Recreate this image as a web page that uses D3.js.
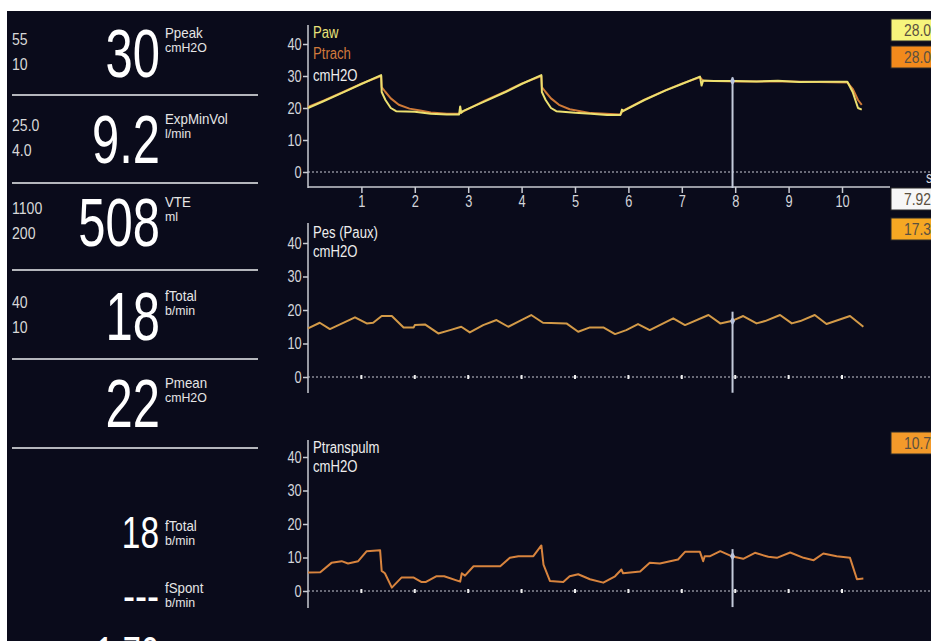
<!DOCTYPE html>
<html>
<head>
<meta charset="utf-8">
<script src="https://cdn.jsdelivr.net/npm/d3@7"></script>
<style>
  html, body { margin: 0; padding: 0; background: #fff; }
  svg { display: block; }
  text { font-family: "Liberation Sans", Arial, sans-serif; }
</style>
</head>
<body>
<div id="monitor"></div>
<script>
// Ventilator screen: numeric panel + three pressure waveforms

// numeric parameter panel (value, name, unit, upper/lower alarm limits)
const paramValues = ["30", "9.2", "508", "18", "22"];
const paramNames = ["Ppeak", "ExpMinVol", "VTE", "fTotal", "Pmean"];
const paramUnits = ["cmH2O", "l/min", "ml", "b/min", "cmH2O"];
const paramHigh = ["55", "25.0", "1100", "40", ""];
const paramLow = ["10", "4.0", "200", "10", ""];

const smallValues = ["18", "---"];
const smallNames = ["fTotal", "fSpont"];
const smallUnits = ["b/min", "b/min"];

// time axis
const timeTicks = [1, 2, 3, 4, 5, 6, 7, 8, 9, 10];
const pressureTicks = [0, 10, 20, 30, 40];
const cursorTime = 7.95;

// waveforms, [seconds, cmH2O]
const paw = [
  [0, 20], [0.3, 22.2], [0.7, 25.2], [1.0, 27.5], [1.37, 30.3], [1.38, 25], [1.45, 22.5],
  [1.55, 20], [1.65, 19], [2.0, 18.8], [2.3, 18.2], [2.6, 18], [2.83, 18], [2.85, 20.5],
  [2.87, 18.5], [2.9, 19], [3.3, 22], [3.7, 25], [4.0, 27.5], [4.37, 30.3], [4.38, 25],
  [4.45, 22.5], [4.55, 20], [4.65, 19], [5.0, 18.5], [5.3, 18.2], [5.6, 17.8], [5.85, 17.8],
  [5.88, 19.5], [5.9, 19], [6.3, 22.5], [6.7, 25.5], [7.0, 27.5], [7.34, 29.8], [7.37, 27],
  [7.4, 28.6], [7.6, 28.4], [8.0, 28.4], [8.4, 28.3], [8.8, 28.5], [9.2, 28.1], [9.6, 28.2],
  [10.1, 28.2], [10.2, 25], [10.3, 20], [10.37, 19.5]
];
const ptrach = [
  [0, 20.3], [0.3, 22.4], [0.7, 25.3], [1.0, 27.6], [1.37, 30], [1.38, 26.5], [1.45, 25],
  [1.55, 23], [1.7, 21], [1.9, 19.8], [2.1, 19.2], [2.3, 18.6], [2.6, 18.2], [2.83, 18.2],
  [2.88, 18.7], [3.3, 22.2], [3.7, 25.2], [4.0, 27.6], [4.37, 30], [4.38, 26.5], [4.45, 25],
  [4.55, 23], [4.7, 21], [4.9, 19.6], [5.1, 19], [5.3, 18.4], [5.85, 18], [5.9, 19.2],
  [6.3, 22.6], [6.7, 25.6], [7.0, 27.6], [7.34, 29.6], [7.4, 28.5], [8.0, 28.3], [9.0, 28.3],
  [10.1, 28], [10.2, 26], [10.3, 22.5], [10.37, 21]
];
const pes = [
  [0, 14.5], [0.22, 16.2], [0.41, 14.3], [0.88, 17.8], [1.1, 16], [1.22, 16.2], [1.38, 18.2],
  [1.57, 18.2], [1.79, 14.8], [1.98, 14.8], [2.0, 15.5], [2.19, 15.7], [2.44, 13], [2.66, 14],
  [2.87, 15], [3.03, 13.3], [3.28, 15.5], [3.53, 17], [3.75, 15], [3.94, 16.5], [4.18, 18.5],
  [4.4, 16.2], [4.84, 16], [5.06, 13.5], [5.28, 14.8], [5.53, 14.8], [5.75, 12.8], [5.96, 14],
  [6.18, 15.8], [6.4, 14], [6.84, 17.5], [7.06, 15.5], [7.5, 18.5], [7.72, 16], [7.93, 16.7],
  [8.15, 18.2], [8.4, 16], [8.56, 16.7], [8.84, 18.5], [9.06, 16], [9.22, 16.7], [9.49, 18.5],
  [9.71, 15.8], [10.15, 18.2], [10.4, 15]
];
const ptranspulm = [
  [0, 5.5], [0.23, 5.6], [0.44, 8.4], [0.63, 8.9], [0.75, 8.2], [0.94, 8.9], [1.1, 11.9],
  [1.35, 12.2], [1.38, 6], [1.44, 5.3], [1.57, 1], [1.75, 4], [1.98, 4], [2.12, 2.7],
  [2.21, 2.7], [2.4, 4.4], [2.55, 4.4], [2.85, 2.8], [2.88, 5.3], [2.94, 4.6], [3.1, 7.4],
  [3.35, 7.4], [3.6, 7.4], [3.78, 9.9], [3.94, 10.4], [4.22, 10.4], [4.37, 13.6], [4.41, 7.9],
  [4.53, 3], [4.78, 2.7], [4.9, 4.4], [5.06, 5], [5.28, 3.5], [5.53, 2.5], [5.75, 4.4],
  [5.87, 6.4], [5.9, 5.3], [6.22, 5.8], [6.4, 8.4], [6.59, 8.2], [6.78, 8.9], [6.93, 9.4],
  [7.06, 11.7], [7.34, 11.7], [7.4, 8.9], [7.43, 10.4], [7.53, 10.4], [7.72, 11.9],
  [7.93, 10.4], [8.15, 9.6], [8.37, 11.4], [8.62, 10.2], [8.78, 9.9], [9.03, 11.5],
  [9.28, 9.9], [9.47, 9.2], [9.65, 11.2], [9.9, 10.4], [10.15, 9.9], [10.28, 3.5], [10.4, 3.7]
];

// cursor readouts
const readoutTexts = ["28.0", "28.0", "7.92", "17.3", "10.7"];
const readoutFills = ["#f7f57c", "#f28a1c", "#f7f7f7", "#f6a823", "#f39a2a"];

const W = 931, H = 641;
const bg = "#0a0b1b";
const axisCol = "#c9cbd2";

const svg = d3.select("#monitor").append("svg")
  .attr("width", W).attr("height", H);

svg.append("rect").attr("x", 7).attr("y", 11)
  .attr("width", W - 7).attr("height", H - 11).attr("fill", bg);

// condensed text: horizontally squeezed Liberation Sans
function narrow(parent, x, y, str, size, fill, sx, anchor) {
  return parent.append("text")
    .attr("transform", `translate(${x},${y}) scale(${sx},1)`)
    .attr("text-anchor", anchor || "start")
    .attr("font-size", size).attr("fill", fill).text(str);
}

// ---------- numeric panel ----------
const panelRows = [
  { base: 77, sep: 95 }, { base: 163, sep: 183 }, { base: 246, sep: 270 },
  { base: 340, sep: 359 }, { base: 427, sep: 448 }
];

paramValues.forEach((v, i) => {
  const r = panelRows[i];
  narrow(svg, 160, r.base, v, 68, "#fff", 0.72, "end");
  narrow(svg, 165, r.base - 39, paramNames[i], 14, "#e6e6e6", 0.95);
  narrow(svg, 165, r.base - 25, paramUnits[i], 13, "#e6e6e6", 0.95);
  narrow(svg, 12, r.base - 32, paramHigh[i], 16, "#d8d8d8", 0.88);
  narrow(svg, 12, r.base - 7, paramLow[i], 16, "#d8d8d8", 0.88);
  svg.append("line").attr("x1", 12).attr("x2", 258)
    .attr("y1", r.sep).attr("y2", r.sep)
    .attr("stroke", "#b4b6bc").attr("stroke-width", 2);
});

const smallRows = [{ base: 548, label: 548 }, { base: 611, label: 610 }];
smallValues.forEach((v, i) => {
  narrow(svg, 159, smallRows[i].base, v, 44, "#fff", i === 1 ? 0.82 : 0.76, "end");
  narrow(svg, 165, smallRows[i].label - 17, smallNames[i], 14, "#e6e6e6", 0.95);
  narrow(svg, 165, smallRows[i].label - 3, smallUnits[i], 13, "#e6e6e6", 0.95);
});
// clipped value at the very bottom
narrow(svg, 159, 668, "1:70", 44, "#fff", 0.74, "end");

// ---------- waveforms ----------
const x = d3.scaleLinear().domain([0, 10]).range([308, 842]);

const charts = [
  { zero: 172, top40: 44, axisTop: 25, axisBottom: 188, xAxis: 187,
    labels: [["Paw", "#e9e27a"], ["Ptrach", "#d27a3c"], ["cmH2O", "#eeeeee"]],
    labelBase: [38, 59, 81],
    series: [[ptrach, "#cf7a38"], [paw, "#ece070"]], cursor: [29.6, -5] },
  { zero: 377, top40: 243, axisTop: 223, axisBottom: 393, xAxis: null,
    labels: [["Pes (Paux)", "#eeeeee"], ["cmH2O", "#eeeeee"]],
    labelBase: [238, 257],
    series: [[pes, "#d39a48"]], cursor: [19.5, -4.7] },
  { zero: 591, top40: 457, axisTop: 440, axisBottom: 608, xAxis: null,
    labels: [["Ptranspulm", "#eeeeee"], ["cmH2O", "#eeeeee"]],
    labelBase: [453, 472],
    series: [[ptranspulm, "#d8843e"]], cursor: [12.5, -4.8] }
];

charts.forEach(c => {
  const y = d3.scaleLinear().domain([0, 40]).range([c.zero, c.top40]);
  const g = svg.append("g");

  // y axis
  const ya = g.append("g").attr("transform", "translate(308,0)")
    .call(d3.axisLeft(y).tickValues(pressureTicks).tickSize(5).tickPadding(3));
  ya.select(".domain").remove();
  ya.selectAll("line").attr("stroke", axisCol).attr("stroke-width", 1.5);
  ya.selectAll("text").attr("fill", "#d4d6dc").attr("font-size", 16)
    .attr("transform", "scale(0.8,1)");
  g.append("line").attr("x1", 308).attr("x2", 308)
    .attr("y1", c.axisTop).attr("y2", c.axisBottom)
    .attr("stroke", axisCol).attr("stroke-width", 1.5);

  // dotted zero line
  g.append("line").attr("x1", 308).attr("x2", W)
    .attr("y1", y(0)).attr("y2", y(0))
    .attr("stroke", "#c8cad4").attr("stroke-width", 1).attr("stroke-dasharray", "2,2");

  if (c.xAxis) {
    const xa = g.append("g").attr("transform", `translate(0,${c.xAxis})`)
      .call(d3.axisBottom(x).tickValues(timeTicks).tickSize(6).tickPadding(3).tickFormat(d3.format("d")));
    xa.select(".domain").remove();
    xa.selectAll("line").attr("stroke", axisCol).attr("stroke-width", 1.5);
    xa.selectAll("text").attr("fill", "#d4d6dc").attr("font-size", 16)
      .attr("transform", "scale(0.8,1)");
    g.append("line").attr("x1", 308).attr("x2", 890)
      .attr("y1", c.xAxis).attr("y2", c.xAxis)
      .attr("stroke", axisCol).attr("stroke-width", 1.5);
    narrow(g, 926, y(0) + 11, "s", 16, "#d4d6dc", 0.8);
  } else {
    g.selectAll(".tdot").data(timeTicks).join("line")
      .attr("x1", d => x(d)).attr("x2", d => x(d))
      .attr("y1", y(0) - 2).attr("y2", y(0) + 2)
      .attr("stroke", "#f0f0f0").attr("stroke-width", 2);
  }

  // labels
  c.labels.forEach((l, i) => {
    narrow(g, 313, c.labelBase[i], l[0], 16, l[1], 0.82);
  });

  const line = d3.line().x(d => x(d[0])).y(d => y(d[1]));
  c.series.forEach(s => {
    g.append("path").datum(s[0]).attr("d", line)
      .attr("fill", "none").attr("stroke", s[1])
      .attr("stroke-width", 2).attr("stroke-linejoin", "round");
  });

  // cursor
  g.append("line").attr("x1", x(cursorTime)).attr("x2", x(cursorTime))
    .attr("y1", y(c.cursor[0])).attr("y2", y(c.cursor[1]))
    .attr("stroke", "#c4cbdb").attr("stroke-width", 2);
  const last = c.series[c.series.length - 1][0];
  const cv = last.reduce((a, b) => Math.abs(b[0] - cursorTime) < Math.abs(a[0] - cursorTime) ? b : a)[1];
  g.append("path")
    .attr("d", d3.symbol(d3.symbolDiamond, 22)())
    .attr("transform", `translate(${x(cursorTime)},${y(cv)})`)
    .attr("fill", "#b9c3dc");
});

// ---------- readout boxes ----------
const boxTops = [19, 46, 188, 218, 432];
readoutTexts.forEach((t, i) => {
  svg.append("rect").attr("x", 891).attr("y", boxTops[i])
    .attr("width", 50).attr("height", 22)
    .attr("fill", readoutFills[i]).attr("stroke", "#2a2a2a").attr("stroke-width", 1);
  narrow(svg, 904, boxTops[i] + 17, t, 17, "#5a5040", 0.82);
});
</script>
</body>
</html>
